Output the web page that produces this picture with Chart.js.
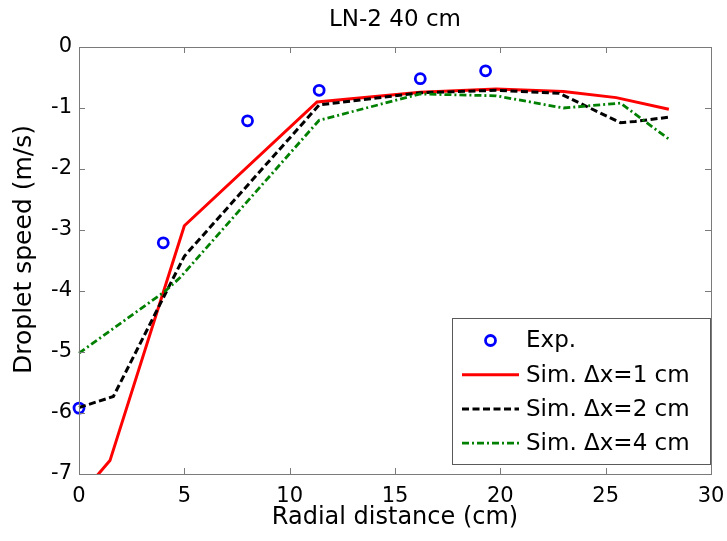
<!DOCTYPE html>
<html>
<head>
<meta charset="utf-8">
<script src="https://cdn.jsdelivr.net/npm/chart.js@4.4.1/dist/chart.umd.min.js"></script>
<style>
html, body { margin: 0; padding: 0; background: #ffffff; }
#wrap { width: 727px; height: 541px; }
</style>
</head>
<body>
<div id="wrap"><canvas id="c" width="727" height="541"></canvas></div>
<script>
// ---- texts ----
const chartTitle = 'LN-2 40 cm';
const xTitle = 'Radial distance (cm)';
const yTitle = 'Droplet speed (m/s)';
const seriesLabels = ['Exp.', 'Sim. \u0394x=1 cm', 'Sim. \u0394x=2 cm', 'Sim. \u0394x=4 cm'];

// ---- tick values ----
const xTicks = [0, 5, 10, 15, 20, 25, 30];
const yTicks = [0, -1, -2, -3, -4, -5, -6, -7];

// ---- experimental data ----
const expX = [0, 4, 8, 11.4, 16.2, 19.3];
const expY = [-5.92, -3.21, -1.21, -0.71, -0.52, -0.39];

// ---- simulation, dx = 1 cm ----
const sim1X = [0, 1.47, 5, 11.3, 16.2, 19.8, 23, 25.5, 28];
const sim1Y = [-7.37, -6.78, -2.93, -0.9, -0.74, -0.69, -0.73, -0.83, -1.02];

// ---- simulation, dx = 2 cm ----
const sim2X = [0, 1.63, 5, 11.4, 16.2, 19.8, 22.8, 25.7, 26.4, 28];
const sim2Y = [-5.91, -5.73, -3.43, -0.95, -0.75, -0.71, -0.76, -1.24, -1.22, -1.15];

// ---- simulation, dx = 4 cm ----
const sim4X = [0, 4.1, 4.8, 11.4, 16.2, 19.8, 23, 25.7, 28];
const sim4Y = [-5.02, -4.0, -3.78, -1.2, -0.77, -0.8, -1.0, -0.92, -1.51];

const toPts = (xs, ys) => xs.map((x, i) => ({ x: x, y: ys[i] }));

const FONT = "'DejaVu Sans', 'Liberation Sans', sans-serif";
Chart.defaults.font.family = FONT;
Chart.defaults.color = '#000000';

const frameColor = '#7a7a7a';

// frame box with inward ticks on all four sides (MATLAB style)
const framePlugin = {
  id: 'frame',
  afterDatasetsDraw(chart) {
    const { ctx, chartArea: ca, scales } = chart;
    const tl = 6;
    ctx.save();
    ctx.strokeStyle = frameColor;
    ctx.lineWidth = 1;
    ctx.beginPath();
    scales.x.ticks.forEach(t => {
      const px = Math.round(scales.x.getPixelForValue(t.value)) + 0.5;
      ctx.moveTo(px, ca.bottom); ctx.lineTo(px, ca.bottom - tl);
      ctx.moveTo(px, ca.top); ctx.lineTo(px, ca.top + tl);
    });
    scales.y.ticks.forEach(t => {
      const py = Math.round(scales.y.getPixelForValue(t.value)) + 0.5;
      ctx.moveTo(ca.left, py); ctx.lineTo(ca.left + tl, py);
      ctx.moveTo(ca.right, py); ctx.lineTo(ca.right - tl, py);
    });
    ctx.stroke();
    ctx.strokeRect(Math.round(ca.left) + 0.5, Math.round(ca.top) + 0.5,
                   Math.round(ca.right - ca.left), Math.round(ca.bottom - ca.top));
    ctx.restore();
  }
};

// chart title centred over the axes, and the y-axis title
const titlesPlugin = {
  id: 'titles',
  afterDraw(chart) {
    const { ctx, chartArea: ca } = chart;
    ctx.save();
    ctx.fillStyle = '#000000';
    ctx.textAlign = 'center';
    ctx.textBaseline = 'middle';
    ctx.font = '23px ' + FONT;
    ctx.fillText(chartTitle, (ca.left + ca.right) / 2, ca.top - 27);
    ctx.translate(ca.left - 55, (ca.top + ca.bottom) / 2 - 11);
    ctx.rotate(-Math.PI / 2);
    ctx.font = '25px ' + FONT;
    ctx.fillText(yTitle, 0, 0);
    ctx.restore();
  }
};

// legend box inside the plot (south-east)
const legendPlugin = {
  id: 'legendBox',
  afterDraw(chart) {
    const { ctx, chartArea: ca } = chart;
    const w = 259, h = 147;
    const x1 = Math.round(ca.right - w), y1 = Math.round(ca.bottom - 9 - h);
    ctx.save();
    ctx.fillStyle = '#ffffff';
    ctx.fillRect(x1, y1, w, h);
    ctx.strokeStyle = '#5a5a5a';
    ctx.lineWidth = 1;
    ctx.strokeRect(x1 + 0.5, y1 + 0.5, w - 1, h - 1);
    ctx.font = '23px ' + FONT;
    ctx.textBaseline = 'middle';
    ctx.textAlign = 'left';
    chart.data.datasets.forEach((ds, i) => {
      const cy = y1 + 22.5 + i * 34.2;
      const sx1 = x1 + 10, sx2 = x1 + 67;
      if (ds.showLine === false) {
        ctx.beginPath();
        ctx.strokeStyle = ds.borderColor;
        ctx.lineWidth = ds.pointBorderWidth;
        ctx.setLineDash([]);
        ctx.arc((sx1 + sx2) / 2, cy, ds.pointRadius, 0, Math.PI * 2);
        ctx.stroke();
      } else {
        ctx.beginPath();
        ctx.strokeStyle = ds.borderColor;
        ctx.lineWidth = ds.borderWidth;
        ctx.setLineDash(ds.borderDash || []);
        ctx.moveTo(sx1, cy);
        ctx.lineTo(sx2, cy);
        ctx.stroke();
      }
      ctx.setLineDash([]);
      ctx.fillStyle = '#000000';
      ctx.fillText(ds.label, x1 + 74, cy + 1);
    });
    ctx.restore();
  }
};

const lineClip = { left: 2, top: 2, right: 2, bottom: 0 };

new Chart(document.getElementById('c'), {
  type: 'line',
  data: {
    datasets: [
      {
        label: seriesLabels[0],
        data: toPts(expX, expY),
        showLine: false,
        borderColor: '#0000ff',
        backgroundColor: 'rgba(0,0,0,0)',
        pointBackgroundColor: 'rgba(0,0,0,0)',
        pointBorderColor: '#0000ff',
        pointStyle: 'circle',
        pointRadius: 5,
        pointBorderWidth: 2.8,
        pointHoverRadius: 5,
        clip: false,
        order: 3
      },
      {
        label: seriesLabels[1],
        data: toPts(sim1X, sim1Y),
        borderColor: '#ff0000',
        borderWidth: 3,
        pointRadius: 0,
        tension: 0,
        fill: false,
        clip: lineClip,
        order: 2
      },
      {
        label: seriesLabels[2],
        data: toPts(sim2X, sim2Y),
        borderColor: '#000000',
        borderWidth: 3,
        borderDash: [7, 3.5],
        pointRadius: 0,
        tension: 0,
        fill: false,
        clip: lineClip,
        order: 1
      },
      {
        label: seriesLabels[3],
        data: toPts(sim4X, sim4Y),
        borderColor: '#008000',
        borderWidth: 2.8,
        borderDash: [7, 3, 2, 3],
        pointRadius: 0,
        tension: 0,
        fill: false,
        clip: lineClip,
        order: 0
      }
    ]
  },
  options: {
    responsive: false,
    animation: false,
    devicePixelRatio: 1,
    layout: { padding: { left: 0, right: 16, top: 47, bottom: 0 } },
    plugins: {
      legend: { display: false },
      tooltip: { enabled: false },
      title: { display: false }
    },
    scales: {
      x: {
        type: 'linear',
        min: 0,
        max: 30,
        afterBuildTicks: s => { s.ticks = xTicks.map(v => ({ value: v })); },
        afterFit: s => { s.height = 67; s.paddingLeft = 0; s.paddingRight = 0; },
        grid: { display: false, drawTicks: false },
        border: { display: false },
        ticks: {
          color: '#000000',
          font: { size: 21, family: FONT },
          padding: 10,
          maxRotation: 0,
          autoSkip: false,
          callback: v => String(v)
        },
        title: {
          display: true,
          text: xTitle,
          color: '#000000',
          font: { size: 24, family: FONT },
          padding: { top: 0, bottom: 9 }
        }
      },
      y: {
        type: 'linear',
        min: -7,
        max: 0,
        afterBuildTicks: s => { s.ticks = yTicks.map(v => ({ value: v })); },
        afterFit: s => { s.width = 79; s.paddingTop = 0; s.paddingBottom = 0; },
        grid: { display: false, drawTicks: false },
        border: { display: false },
        ticks: {
          color: '#000000',
          font: { size: 21, family: FONT },
          padding: 7,
          autoSkip: false,
          callback: v => String(v)
        },
        title: { display: false }
      }
    }
  },
  plugins: [framePlugin, titlesPlugin, legendPlugin]
});
</script>
</body>
</html>
